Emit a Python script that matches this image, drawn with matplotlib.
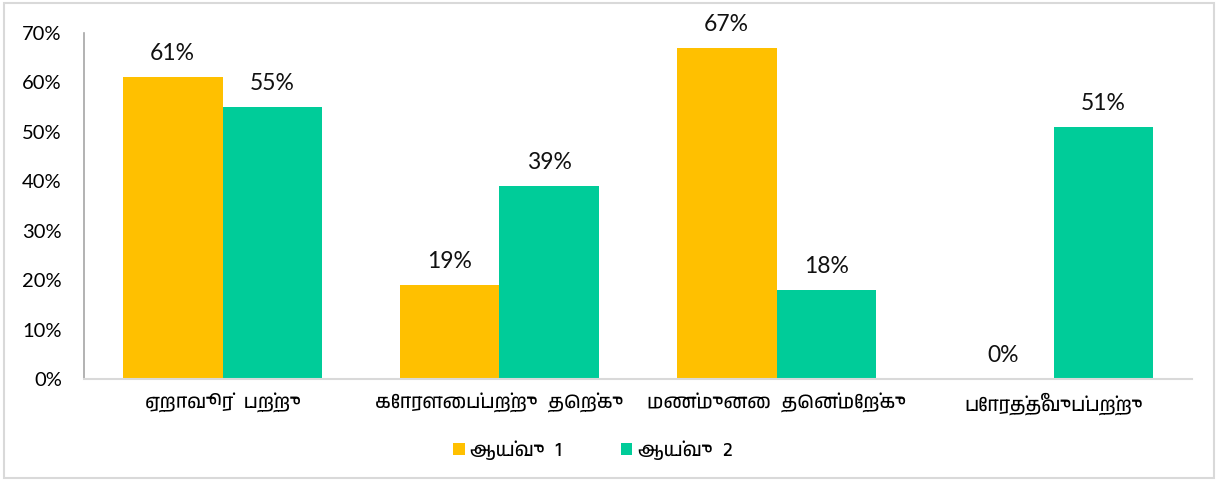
import matplotlib
matplotlib.use("Agg")
import matplotlib.pyplot as plt
from matplotlib import font_manager
from matplotlib.patches import Rectangle
import numpy as np

categories = ["ஏறாவூர்  பற்று", "கோரளைப்பற்று  தெற்கு", "மண்முனை  தென்மேற்கு", "போரத்தீவுப்பற்று"]
series_names = ["ஆய்வு  1", "ஆய்வு  2"]
survey1 = [61, 19, 67, 0]
survey2 = [55, 39, 18, 51]
yticks = [0, 10, 20, 30, 40, 50, 60, 70]

YELLOW = "#FFC000"
GREEN = "#00CC99"

# pick any installed font that carries Tamil glyphs
tamil = [f.name for f in font_manager.fontManager.ttflist if "tamil" in f.name.lower()]
TAMIL_FAM = sorted(set(tamil)) + ["Liberation Serif", "DejaVu Sans"]
NUM_FAM = ["Lato", "DejaVu Sans"]

fig = plt.figure(figsize=(12.21, 4.82), dpi=100)
fig.patches.append(Rectangle((4 / 1221, 1 - 478 / 482), 1210 / 1221, 475 / 482,
                             transform=fig.transFigure, fill=False,
                             edgecolor="#D9D9D9", linewidth=1.5))
ax = fig.add_axes([84 / 1221, 1 - 379 / 482, 1108 / 1221, 346 / 482])

x = np.arange(len(categories))
w = 0.361
b1 = ax.bar(x - w / 2, survey1, w, color=YELLOW, label=series_names[0])
b2 = ax.bar(x + w / 2, survey2, w, color=GREEN, label=series_names[1])

for bars, vals in ((b1, survey1), (b2, survey2)):
    for r, v in zip(bars, vals):
        ax.annotate(f"{v}%", (r.get_x() + r.get_width() / 2, v), xytext=(0, 9.5),
                    textcoords="offset points", ha="center", va="bottom",
                    fontsize=16.5, family=NUM_FAM, color="#111111")

ax.set_xlim(-0.5, len(categories) - 0.5)
ax.set_ylim(0, 70)
ax.set_yticks(yticks)
ax.set_yticklabels([f"{t}%" for t in yticks], family=NUM_FAM, fontsize=14.5)
ax.set_xticks(x)
ax.set_xticklabels(categories, family=TAMIL_FAM, fontsize=14)
ax.tick_params(axis="both", length=0)
ax.tick_params(axis="y", pad=16)
ax.tick_params(axis="x", pad=10)

for s in ("top", "right"):
    ax.spines[s].set_visible(False)
ax.spines["left"].set_color("#A6A6A6")
ax.spines["left"].set_linewidth(1.2)
ax.spines["bottom"].set_color("#D9D9D9")
ax.spines["bottom"].set_linewidth(1.5)

leg = ax.legend(loc="center left", bbox_to_anchor=(0.333, -0.205), ncol=2, frameon=False,
                borderaxespad=0, borderpad=0,
                handlelength=0.6, handleheight=0.6, handletextpad=0.3, columnspacing=3.0,
                prop={"family": TAMIL_FAM, "size": 14})

fig.savefig("out.png", dpi=100)
